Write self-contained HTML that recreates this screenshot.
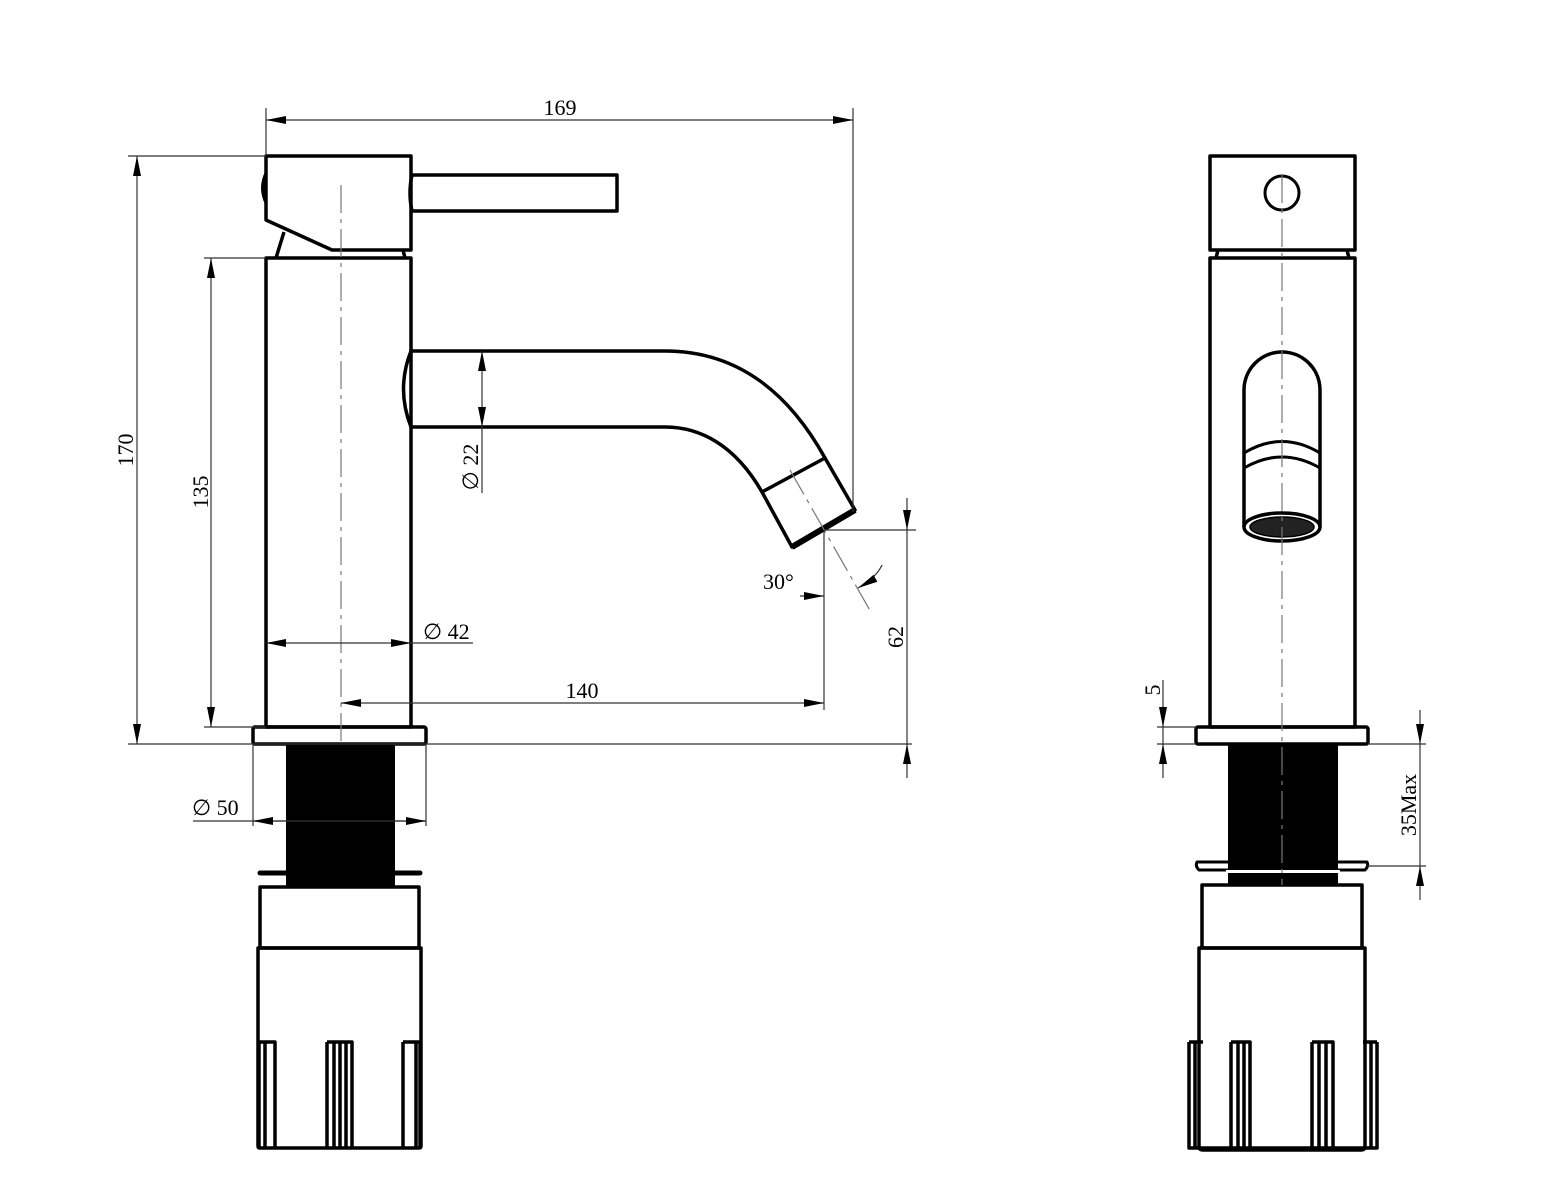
<!DOCTYPE html>
<html><head><meta charset="utf-8"><style>
html,body{margin:0;padding:0;background:#fff;}
svg{display:block;}
text{font-family:"Liberation Serif",serif;font-size:22px;fill:#000;}
</style></head><body>
<svg width="1547" height="1200" viewBox="0 0 1547 1200" xmlns="http://www.w3.org/2000/svg">
<defs>
<marker id="a" viewBox="0 0 20 8" refX="20" refY="4" markerWidth="20" markerHeight="8" markerUnits="userSpaceOnUse" orient="auto-start-reverse"><path d="M0,0 L20,4 L0,8z" fill="#000"/></marker>
</defs>
<g fill="none" stroke="#000" stroke-width="3.5" stroke-linejoin="round">
<path d="M266,156 H411 V250 H332 L266,220 Z"/>
<path d="M266,172 Q258,188 266,204" fill="#000" stroke-width="2"/>
<path d="M284,232 L276,258"/>
<path d="M403,250 L405,258"/>
<path d="M412,175 H617 V211 H412 Q408,193 412,175 Z"/>
<path d="M266,258 H411 V727 H266 Z"/>
<path d="M411,351 H665 C740,351 790,395 825,458"/>
<path d="M411,427 H665 C700,427 735,445 762,492"/>
<path d="M411,351 Q396,389 411,427"/>
<path d="M762,492 L825,458 L855,510 L792,547 Z"/>
<path d="M792,547 L855,510" stroke-width="6"/>
<rect x="253" y="727" width="173" height="17" rx="2"/>
<path d="M260,873 H420" stroke-width="5" stroke-linecap="round"/>
<path d="M260,887 H419 V948 H260 Z"/>
<path d="M258,948 H421 V1146 Q421,1148 419,1148 H260 Q258,1148 258,1146 Z"/>
<path d="M259,1042 H275 V1148 M259,1042 V1148 M265,1042 V1148"/>
<path d="M327,1042 H352 V1148 M327,1042 V1148 M334,1042 V1148 M340,1042 V1148 M346,1042 V1148"/>
<path d="M403,1042 H420 V1148 M403,1042 V1148 M416,1042 V1148"/>

<path d="M1210,156 H1355 V250 H1210 Z"/>
<circle cx="1282" cy="193" r="17" stroke-width="3"/>
<path d="M1218,250 L1216,258 M1347,250 L1349,258"/>
<path d="M1210,258 H1355 V727 H1210 Z"/>
<path d="M1244,527 V390 A38,38 0 0 1 1320,390 V527"/>
<path d="M1244,453 Q1282,430 1320,453" stroke-width="3"/>
<path d="M1244,468 Q1282,446 1320,468" stroke-width="3"/>
<ellipse cx="1282" cy="527" rx="38" ry="14"/>
<ellipse cx="1282" cy="527" rx="32" ry="10" fill="#222" stroke-width="1.5"/>
<rect x="1196" y="727" width="172" height="17" rx="2"/>
<path d="M1197,862 H1367 Q1369,866 1365,870 H1199 Q1195,866 1197,862 Z" stroke-width="3"/>
<path d="M1202,885 H1362 V948 H1202 Z"/>
<path d="M1199,948 H1365 V1146 Q1365,1150 1361,1150 H1203 Q1199,1150 1199,1146 Z"/>
<path d="M1189,1042 V1148 H1377 V1042 M1189,1042 H1203 M1195,1042 V1148 M1363,1042 H1377 M1371,1042 V1148"/>
<path d="M1231,1042 H1250 V1148 M1231,1042 V1148 M1238,1042 V1148 M1244,1042 V1148"/>
<path d="M1312,1042 H1333 V1148 M1312,1042 V1148 M1319,1042 V1148 M1326,1042 V1148"/>
</g>
<rect x="286" y="744" width="109" height="143" fill="#000"/>
<rect x="1228" y="744" width="110" height="142" fill="#000"/>
<rect x="1226" y="870" width="114" height="3" fill="#fff"/>

<g stroke="#777" stroke-width="1.2" fill="none" stroke-dasharray="28,6,4,6">
<path d="M341,185 V745"/>
<path d="M1282,175 V885"/>
<path d="M790,470 L872,614"/>
</g>

<g stroke="#333" stroke-width="1.2" fill="none">
<path d="M266,108 V156 M853,108 V512"/>
<path d="M266,120 H853" marker-start="url(#a)" marker-end="url(#a)"/>
<path d="M128,156 H266 M128,744 H912"/>
<path d="M137,156 V744" marker-start="url(#a)" marker-end="url(#a)"/>
<path d="M204,258 H266 M204,727 H266"/>
<path d="M211,258 V727" marker-start="url(#a)" marker-end="url(#a)"/>
<path d="M266,643 H411" marker-start="url(#a)" marker-end="url(#a)"/>
<path d="M411,643 H473"/>
<path d="M482,351 V427" marker-start="url(#a)" marker-end="url(#a)"/>
<path d="M482,427 V493"/>
<path d="M341,703 H824" marker-start="url(#a)" marker-end="url(#a)"/>
<path d="M824,530 V710 M824,530 H916"/>
<path d="M907,498 V530" marker-end="url(#a)"/>
<path d="M907,778 V744" marker-end="url(#a)"/>
<path d="M907,530 V744"/>
<path d="M800,596 H824" marker-end="url(#a)"/>
<path d="M882,565 Q876,578 858,588" marker-end="url(#a)"/>
<path d="M253,744 V826 M426,744 V826"/>
<path d="M193,821 H426"/>
<path d="M286,821 H253" marker-end="url(#a)"/>
<path d="M394,821 H426" marker-end="url(#a)"/>
<path d="M1157,727 H1196 M1157,744 H1196"/>
<path d="M1163,680 V727" marker-end="url(#a)"/>
<path d="M1163,778 V744" marker-end="url(#a)"/>
<path d="M1163,727 V744"/>
<path d="M1368,744 H1426 M1367,866 H1426"/>
<path d="M1420,710 V744" marker-end="url(#a)"/>
<path d="M1420,900 V866" marker-end="url(#a)"/>
<path d="M1420,744 V866"/>
</g>

<text x="560" y="115" text-anchor="middle">169</text>
<text transform="translate(133,450) rotate(-90)" text-anchor="middle">170</text>
<text transform="translate(208,492) rotate(-90)" text-anchor="middle">135</text>
<text transform="translate(478,467) rotate(-90)" text-anchor="middle">∅ 22</text>
<text x="423" y="639">∅ 42</text>
<text x="582" y="698" text-anchor="middle">140</text>
<text x="763" y="589">30°</text>
<text transform="translate(903,637) rotate(-90)" text-anchor="middle">62</text>
<text x="192" y="815">∅ 50</text>
<text transform="translate(1160,690) rotate(-90)" text-anchor="middle">5</text>
<text transform="translate(1416,805) rotate(-90)" text-anchor="middle">35Max</text>
</svg>
</body></html>
